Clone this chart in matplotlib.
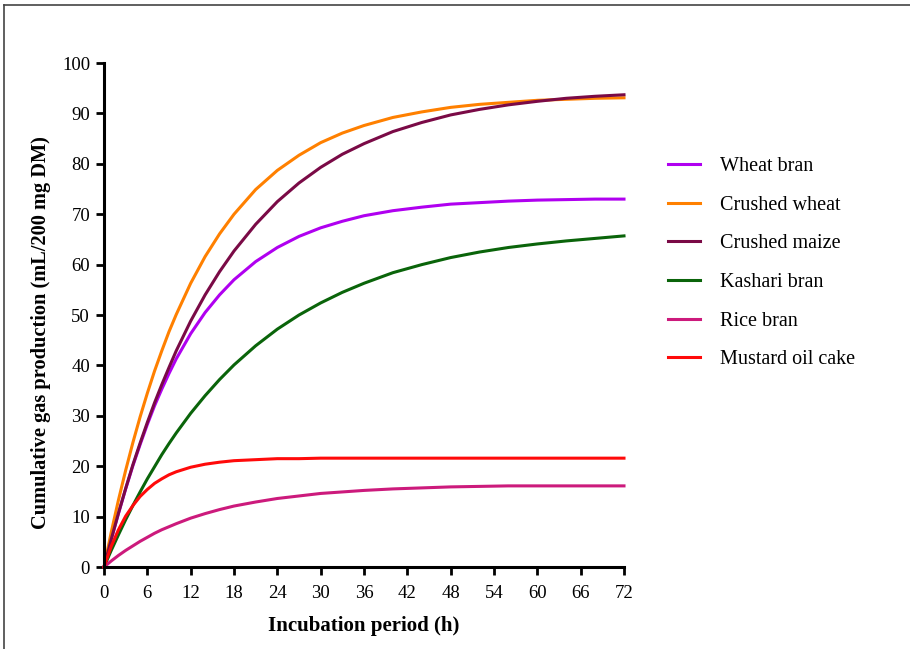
import matplotlib.pyplot as plt
from matplotlib.lines import Line2D

# Incubation times (h) and cumulative gas production
hours = [0, 1, 2, 3, 4, 5, 6, 7, 8, 9, 10, 12, 14, 16, 18, 21, 24, 27, 30, 33, 36,
         40, 44, 48, 52, 56, 60, 64, 68, 72]

wheat_bran = [0, 5.5, 10.6, 15.5, 20.1, 24.3, 28.3, 32.0, 35.3, 38.4, 41.3, 46.3,
              50.5, 54.0, 57.0, 60.6, 63.4, 65.6, 67.3, 68.6, 69.7, 70.7, 71.4,
              72.0, 72.3, 72.6, 72.8, 72.9, 73.0, 73.0]
crushed_wheat = [0, 6.9, 13.3, 19.2, 24.7, 29.8, 34.5, 38.9, 42.9, 46.7, 50.1, 56.3,
                 61.6, 66.1, 70.0, 74.9, 78.7, 81.7, 84.2, 86.1, 87.6, 89.2, 90.3,
                 91.2, 91.8, 92.2, 92.6, 92.8, 93.0, 93.1]
crushed_maize = [0, 5.5, 10.7, 15.6, 20.3, 24.6, 28.7, 32.6, 36.2, 39.6, 42.9, 48.8,
                 54.0, 58.6, 62.7, 68.0, 72.5, 76.2, 79.3, 81.9, 84.0, 86.4, 88.2,
                 89.7, 90.8, 91.7, 92.4, 93.0, 93.4, 93.7]
kashari_bran = [0, 3.3, 6.4, 9.4, 12.2, 14.9, 17.5, 19.9, 22.3, 24.5, 26.6, 30.5,
                34.0, 37.2, 40.1, 43.9, 47.2, 50.0, 52.4, 54.5, 56.3, 58.4, 60.0,
                61.4, 62.5, 63.4, 64.1, 64.7, 65.2, 65.7]
rice_bran = [0, 1.2, 2.3, 3.3, 4.2, 5.1, 5.9, 6.7, 7.4, 8.0, 8.6, 9.7, 10.6, 11.4,
             12.1, 12.9, 13.6, 14.1, 14.6, 14.9, 15.2, 15.5, 15.7, 15.9, 16.0,
             16.1, 16.1, 16.1, 16.1, 16.1]
mustard_oil_cake = [0, 4.1, 7.4, 10.1, 12.2, 14.0, 15.4, 16.6, 17.5, 18.3, 18.9,
                    19.8, 20.4, 20.8, 21.1, 21.3, 21.5, 21.5, 21.6, 21.6, 21.6,
                    21.6, 21.6, 21.6, 21.6, 21.6, 21.6, 21.6, 21.6, 21.6]

labels = ['Wheat bran', 'Crushed wheat', 'Crushed maize', 'Kashari bran',
          'Rice bran', 'Mustard oil cake']
series = [wheat_bran, crushed_wheat, crushed_maize, kashari_bran, rice_bran,
          mustard_oil_cake]
colors = ['#b000f0', '#ff8000', '#7a0a46', '#0a640a', '#cc1a7c', '#ff0a0a']

plt.rcParams['font.family'] = ['Liberation Serif', 'DejaVu Serif']

fig = plt.figure(figsize=(9.1, 6.49), dpi=100)
ax = fig.add_axes([0.1143, 0.1263, 0.5714, 0.7766])

for vals, lab, col in zip(series, labels, colors):
    ax.plot(hours, vals, color=col, lw=2.2, label=lab, clip_on=False,
            solid_joinstyle='round')

ax.set_xlim(0, 72)
ax.set_ylim(0, 100)
ax.set_xticks(range(0, 73, 6))
ax.set_yticks(range(0, 101, 10))
for side in ['top', 'right']:
    ax.spines[side].set_visible(False)
for side in ['left', 'bottom']:
    ax.spines[side].set_linewidth(2.2)
ax.tick_params(width=2, length=6, labelsize=13.5, colors='black')
ax.tick_params(axis='x', pad=7)
ax.tick_params(axis='y', pad=4)

ax.set_xlabel('Incubation period (h)', fontsize=15, fontweight='bold', labelpad=10)
ax.set_ylabel('Cumulative gas production (mL/200 mg DM)', fontsize=14.7,
              fontweight='bold')
ax.yaxis.set_label_coords(-0.102, 0.466)

ax.legend(loc='upper left', bbox_to_anchor=(0.714, 0.786),
          bbox_transform=fig.transFigure, frameon=False, fontsize=14.5,
          handlelength=1.6, handletextpad=1.0, labelspacing=0.97)

# thin frame around the picture (top and left edges)
fig.add_artist(Line2D([0.0045, 1.0], [0.992, 0.992], transform=fig.transFigure,
                      color='#444444', lw=1.2))
fig.add_artist(Line2D([0.0045, 0.0045], [0.0, 0.992], transform=fig.transFigure,
                      color='#444444', lw=1.2))

fig.savefig('out.png', dpi=100)
